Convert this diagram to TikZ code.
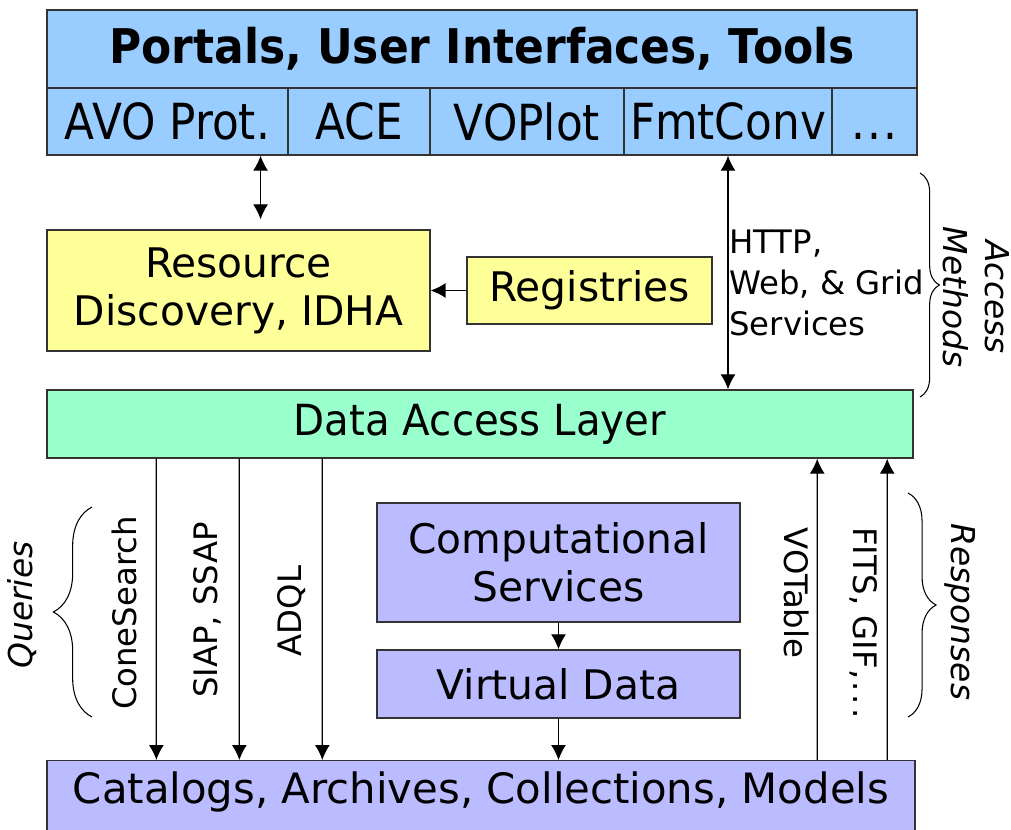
\documentclass[tikz,border=0pt]{standalone}
\usepackage{fontspec}
\setmainfont{DejaVu Sans}
\newfontfamily\titlefont[FakeStretch=0.92]{DejaVu Sans}
\newfontfamily\narrowfont[FakeStretch=0.88]{DejaVu Sans}
\newfontfamily\layerfont[FakeStretch=0.94]{DejaVu Sans}
\usepackage{tikz}
\usetikzlibrary{calc, arrows.meta, decorations.pathreplacing}
\definecolor{toolblue}{HTML}{99CCFF}
\definecolor{regyellow}{HTML}{FFFF99}
\definecolor{dalgreen}{HTML}{99FFCC}
\definecolor{datalilac}{HTML}{BBBBFF}

\begin{document}
\begin{tikzpicture}[x=0.02cm, y=-0.02cm]
		\tikzstyle{box}=[draw=black!80, line width=0.8pt, inner sep=0pt, align=center]
		\tikzstyle{cell}=[box, fill=toolblue, minimum height=1.34cm, font=\narrowfont\fontsize{28.3}{34}\selectfont]
		\tikzstyle{boxtext}=[font=\fontsize{23.2}{27.2}\selectfont]
		\tikzstyle{fleche}=[-{Latex[length=8.5pt,width=8.5pt]}, line width=0.7pt]
		\tikzstyle{flechedbl}=[{Latex[length=8.5pt,width=8.5pt]}-{Latex[length=8.5pt,width=8.5pt]}, line width=0.7pt]
		\tikzstyle{lbl}=[inner sep=0pt, font=\fontsize{18.4}{23.2}\selectfont]
		\tikzstyle{side}=[inner sep=0pt, align=center, font=\fontsize{18.7}{23.8}\selectfont\itshape]
		\tikzset{accolade/.style={decorate, decoration={brace, amplitude=#1}, line width=0.6pt}}
		\useasboundingbox (0,0) rectangle (1011,829);
		\clip (0,0) rectangle (1011,829);
		\fill[white] (0,0) rectangle (1011,829);

		\node[box, fill=toolblue, minimum width=17.4cm, minimum height=1.56cm, font=\titlefont\bfseries\fontsize{27.2}{32}\selectfont] (portals) at (482,49) {Portals, User Interfaces, Tools};
		\node[cell, minimum width=4.82cm] (avo) at (167.5,121.5) {AVO Prot.};
		\node[cell, minimum width=2.84cm] (ace) at (359,121.5) {ACE};
		\node[cell, minimum width=3.88cm] (voplot) at (527,121.5) {VOPlot};
		\node[cell, minimum width=4.16cm] (fmt) at (728,121.5) {FmtConv};
		\node[cell, minimum width=1.70cm] (more) at (874.5,121.5) {\vphantom{AVO}.\kern1pt.\kern1pt.};

		\node[box, boxtext, fill=regyellow, minimum width=7.66cm, minimum height=2.42cm] (rd) at (238.5,290.5) {Resource\\Discovery, IDHA};
		\node[box, boxtext, fill=regyellow, minimum width=4.9cm, minimum height=1.34cm] (reg) at (589.5,290.5) {Registries};
		\node[box, fill=dalgreen, minimum width=17.32cm, minimum height=1.36cm, font=\layerfont\fontsize{24.4}{29}\selectfont] (dal) at (480,424) {Data Access Layer};
		\node[box, boxtext, fill=datalilac, minimum width=7.26cm, minimum height=2.38cm] (cs) at (558.5,562.5) {Computational\\Services};
		\node[box, boxtext, fill=datalilac, minimum width=7.26cm, minimum height=1.36cm] (vd) at (558.5,684) {Virtual Data};
		\node[box, fill=datalilac, anchor=north, minimum width=17.36cm, text height=0.86cm, text depth=0.84cm, font=\fontsize{23.8}{28}\selectfont] (cat) at (481,760) {Catalogs, Archives, Collections, Models};

		\coordinate (avoport) at ($(avo.south west)!0.884!(avo.south east)$);
		\draw[flechedbl, shorten >=0.2cm] (avoport) -- (avoport |- rd.north);
		\draw[fleche] (reg.west) -- (reg.west -| rd.east);
		\draw[flechedbl] (fmt.south) -- (fmt.south |- dal.north);
		\foreach \dx in {2.2, 3.86, 5.52}
			\draw[fleche] ([xshift=\dx cm]dal.south west) -- ([xshift=\dx cm]cat.north west);
		\foreach \dx in {15.42, 16.82}
			\draw[fleche] ([xshift=\dx cm]cat.north west) -- ([xshift=\dx cm]dal.south west);
		\draw[fleche] (cs.south) -- (vd.north);
		\draw[fleche] (vd.south) -- (vd.south |- cat.north);

		\node[lbl, anchor=west, align=left] (http) at (729,283) {HTTP,\\Web, \& Grid\\Services};
		\node[lbl, rotate=90] (cone) at (124,613) {ConeSearch};
		\node[lbl, rotate=90] (siap) at (207,610) {SIAP, SSAP};
		\node[lbl, rotate=90] (adql) at (292,611) {ADQL};
		\node[lbl, rotate=-90] (votable) at (797,593) {VOTable};
		\node[lbl, rotate=-90] (fits) at (864,623) {FITS, GIF,\kern1pt.\kern2pt.\kern2pt.};

		\draw[accolade=11pt] (920,173) -- (920,397);
		\draw[accolade=22pt] (92,717) -- (92,507);
		\draw[accolade=16pt] (908,493) -- (908,717);
		\node[side, rotate=-90] (access) at (976,297) {Access\\Methods};
		\node[side, rotate=90] (queries) at (22,605) {Queries};
		\node[side, rotate=-90] (responses) at (960,612) {Responses};
	\end{tikzpicture}
\end{document}
